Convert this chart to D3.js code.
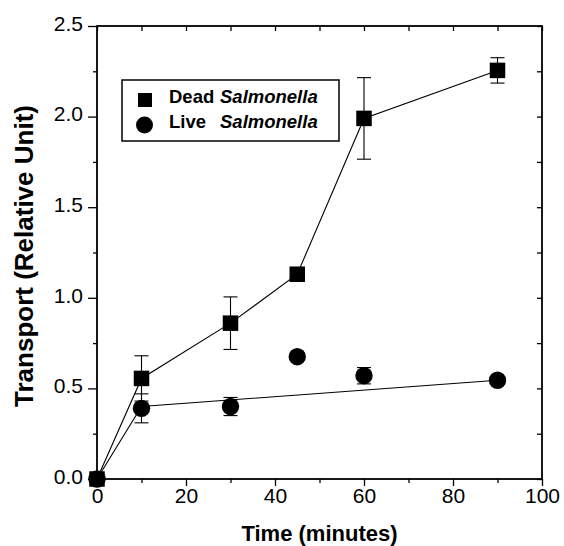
<!DOCTYPE html>
<html>
<head>
<meta charset="utf-8">
<script src="https://cdn.jsdelivr.net/npm/d3@7"></script>
<style>
  body { margin: 0; background: #fff; }
  text { font-family: "Liberation Sans", Arial, sans-serif; fill: #000; }
</style>
</head>
<body>
<div class="chart"></div>
<script>
// data
let times = [0, 10, 30, 45, 60, 90];
let deadValues = [0, 0.555, 0.86, 1.13, 1.99, 2.255];
let deadErrors = [0, 0.125, 0.145, 0.02, 0.225, 0.07];
let liveValues = [0, 0.39, 0.40, 0.675, 0.57, 0.545];
let liveErrors = [0, 0.08, 0.05, 0.02, 0.045, 0.02];
// straight line drawn through the live series
let liveFitTimes = [0, 10, 90];
let liveFitValues = [0, 0.40, 0.545];
let xTicks = [0, 20, 40, 60, 80, 100];
let xMinorTicks = [10, 30, 50, 70, 90];
let yTicks = [0, 0.5, 1.0, 1.5, 2.0, 2.5];
let yMinorTicks = [0.25, 0.75, 1.25, 1.75, 2.25];

let svgWidth = 564;
let svgHeight = 546;
let margin = { top: 26, right: 22, bottom: 67, left: 97 };
let width = svgWidth - margin.left - margin.right;
let height = svgHeight - margin.top - margin.bottom;

let svg = d3.select(".chart")
  .append("svg")
  .attr("width", svgWidth)
  .attr("height", svgHeight);

let chartGroup = svg.append("g")
  .attr("transform", `translate(${margin.left}, ${margin.top})`);

let x = d3.scaleLinear().domain([0, 100]).range([0, width]);
let y = d3.scaleLinear().domain([0, 2.5]).range([height, 0]);

// frame
chartGroup.append("rect")
  .attr("width", width)
  .attr("height", height)
  .attr("fill", "none")
  .attr("stroke", "#000")
  .attr("stroke-width", 1.8);

function styleAxis(g) {
  g.select(".domain").remove();
  g.selectAll("line").attr("stroke", "#000").attr("stroke-width", 1.3);
  g.selectAll("text").style("font-size", "21px").style("font-family", "Liberation Sans, Arial, sans-serif");
}

// bottom axis, ticks outward
chartGroup.append("g")
  .attr("transform", `translate(0, ${height})`)
  .call(d3.axisBottom(x).tickValues(xTicks).tickSize(7).tickPadding(2).tickFormat(d3.format("d")))
  .call(styleAxis);
chartGroup.append("g")
  .attr("transform", `translate(0, ${height})`)
  .call(d3.axisBottom(x).tickValues(xMinorTicks).tickSize(4).tickFormat(""))
  .call(styleAxis);

// left axis, ticks outward
chartGroup.append("g")
  .call(d3.axisLeft(y).tickValues(yTicks).tickSize(9).tickPadding(5).tickFormat(d3.format(".1f")))
  .call(styleAxis)
  .selectAll("text").attr("dy", "0.2em");
chartGroup.append("g")
  .call(d3.axisLeft(y).tickValues(yMinorTicks).tickSize(4).tickFormat(""))
  .call(styleAxis);

// top and right mirror ticks, inward
chartGroup.append("g")
  .call(d3.axisTop(x).tickValues(xTicks.concat(xMinorTicks)).tickSize(-5).tickFormat(""))
  .call(styleAxis);
chartGroup.append("g")
  .attr("transform", `translate(${width}, 0)`)
  .call(d3.axisRight(y).tickValues(yTicks.concat(yMinorTicks)).tickSize(-5).tickFormat(""))
  .call(styleAxis);

let dead = times.map((t, i) => ({ t: t, v: deadValues[i], e: deadErrors[i] }));
let live = times.map((t, i) => ({ t: t, v: liveValues[i], e: liveErrors[i] }));
let liveFit = liveFitTimes.map((t, i) => ({ t: t, v: liveFitValues[i] }));

let line = d3.line().x(d => x(d.t)).y(d => y(d.v));

chartGroup.append("path")
  .datum(dead)
  .attr("d", line)
  .attr("fill", "none")
  .attr("stroke", "#000")
  .attr("stroke-width", 1.1);

chartGroup.append("path")
  .datum(liveFit)
  .attr("d", line)
  .attr("fill", "none")
  .attr("stroke", "#000")
  .attr("stroke-width", 1.1);

// error bars
function drawErrors(data) {
  let bars = chartGroup.append("g")
    .selectAll("g")
    .data(data.filter(d => d.e > 0))
    .enter()
    .append("g")
    .attr("stroke", "#000")
    .attr("stroke-width", 1.1);
  bars.append("line")
    .attr("x1", d => x(d.t)).attr("x2", d => x(d.t))
    .attr("y1", d => y(d.v + d.e)).attr("y2", d => y(d.v - d.e));
  bars.append("line")
    .attr("x1", d => x(d.t) - 7).attr("x2", d => x(d.t) + 7)
    .attr("y1", d => y(d.v + d.e)).attr("y2", d => y(d.v + d.e));
  bars.append("line")
    .attr("x1", d => x(d.t) - 7).attr("x2", d => x(d.t) + 7)
    .attr("y1", d => y(d.v - d.e)).attr("y2", d => y(d.v - d.e));
}
drawErrors(dead);
drawErrors(live);

// markers
chartGroup.selectAll(".live")
  .data(live)
  .enter()
  .append("circle")
  .attr("class", "live")
  .attr("cx", d => x(d.t))
  .attr("cy", d => y(d.v))
  .attr("r", 8.7)
  .attr("fill", "#000");

let sq = 15.5;
chartGroup.selectAll(".dead")
  .data(dead)
  .enter()
  .append("rect")
  .attr("class", "dead")
  .attr("x", d => x(d.t) - sq / 2)
  .attr("y", d => y(d.v) - sq / 2)
  .attr("width", sq)
  .attr("height", sq)
  .attr("fill", "#000");

// legend
let legend = svg.append("g")
  .attr("transform", "translate(122, 80)");
legend.append("rect")
  .attr("width", 217)
  .attr("height", 61)
  .attr("fill", "#fff")
  .attr("stroke", "#000")
  .attr("stroke-width", 1.5);
legend.append("rect")
  .attr("x", 16).attr("y", 13)
  .attr("width", 14).attr("height", 14)
  .attr("fill", "#000");
legend.append("circle")
  .attr("cx", 22.5).attr("cy", 45)
  .attr("r", 8.5)
  .attr("fill", "#000");
let t1 = legend.append("text")
  .attr("x", 47).attr("y", 23)
  .style("font-size", "18.5px").style("font-weight", "bold");
t1.append("tspan").text("Dead ");
t1.append("tspan").attr("x", 98).style("font-style", "italic").text("Salmonella");
let t2 = legend.append("text")
  .attr("x", 47).attr("y", 48)
  .style("font-size", "18.5px").style("font-weight", "bold");
t2.append("tspan").text("Live ");
t2.append("tspan").attr("x", 98).style("font-style", "italic").text("Salmonella");

// axis titles
svg.append("text")
  .attr("x", margin.left + width / 2)
  .attr("y", 541)
  .attr("text-anchor", "middle")
  .style("font-size", "22px")
  .style("font-weight", "bold")
  .text("Time (minutes)");

svg.append("text")
  .attr("transform", "rotate(-90)")
  .attr("x", -256)
  .attr("y", 33)
  .attr("text-anchor", "middle")
  .style("font-size", "26px")
  .style("font-weight", "bold")
  .text("Transport (Relative Unit)");
</script>
</body>
</html>
